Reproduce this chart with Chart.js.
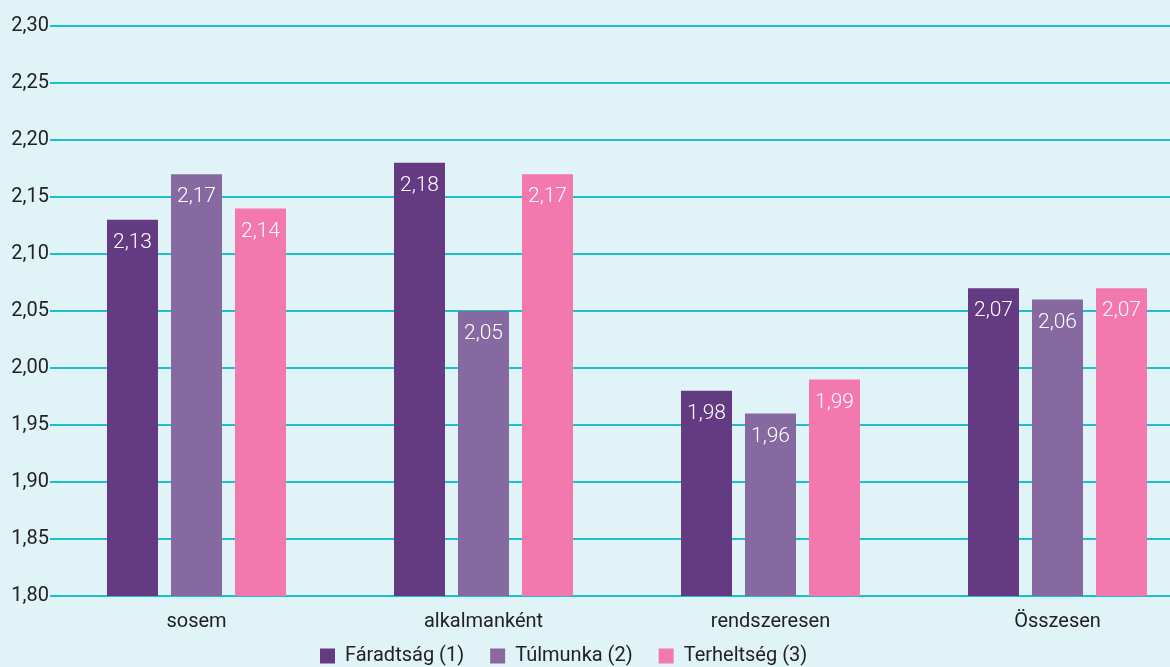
<!DOCTYPE html>
<html>
<head>
<meta charset="utf-8">
<script src="https://cdn.jsdelivr.net/npm/chart.js@4/dist/chart.umd.min.js"></script>
<style>
  html, body { margin: 0; padding: 0; background: #e0f3f6; overflow: hidden; }
  #wrap { position: relative; width: 1210px; height: 676px; }
</style>
</head>
<body>
<div id="wrap"><canvas id="c"></canvas></div>
<script>
const categories = ['sosem', 'alkalmanként', 'rendszeresen', 'Összesen'];
const seriesNames = ['Fáradtság (1)', 'Túlmunka (2)', 'Terheltség (3)'];
const faradtsag = [2.13, 2.18, 1.98, 2.07];
const tulmunka = [2.17, 2.05, 1.96, 2.06];
const terheltseg = [2.14, 2.17, 1.99, 2.07];
const yTicks = [1.80, 1.85, 1.90, 1.95, 2.00, 2.05, 2.10, 2.15, 2.20, 2.25, 2.30];
const colors = ['#643a82', '#8669a0', '#f278ad'];

const fmt = v => v.toFixed(2).replace('.', ',');

const valueLabels = {
  id: 'valueLabels',
  afterDatasetsDraw(chart) {
    const ctx = chart.ctx;
    ctx.save();
    ctx.fillStyle = '#ffffff';
    ctx.font = '300 21px Roboto';
    ctx.textAlign = 'center';
    ctx.textBaseline = 'middle';
    chart.data.datasets.forEach((ds, i) => {
      const meta = chart.getDatasetMeta(i);
      meta.data.forEach((bar, j) => {
        ctx.fillText(fmt(ds.data[j]), bar.x, bar.y + 23);
      });
    });
    ctx.restore();
  }
};

// Wider horizontal spacing between legend items, same vertical placement
const LAYOUT_PAD = 6, DRAW_PAD = 26, LEGEND_START = 320;
const legendShift = {
  id: 'legendShift',
  afterLayout(chart) {
    const lg = chart.legend;
    if (!lg) return;
    const base = lg.options;
    lg.options = new Proxy(base, {
      get(t, p) {
        if (p === 'labels') {
          return new Proxy(t.labels, { get(t2, p2) { return p2 === 'padding' ? DRAW_PAD : t2[p2]; } });
        }
        return t[p];
      }
    });
    const w = lg.right - lg.left;
    lg.top = lg.top - (DRAW_PAD - LAYOUT_PAD);
    lg.left = LEGEND_START - DRAW_PAD;
    lg.right = lg.left + Math.max(w, 700);
  }
};

new Chart(document.getElementById('c'), {
  type: 'bar',
  data: {
    labels: categories,
    datasets: [
      { label: seriesNames[0], data: faradtsag, backgroundColor: colors[0] },
      { label: seriesNames[1], data: tulmunka, backgroundColor: colors[1] },
      { label: seriesNames[2], data: terheltseg, backgroundColor: colors[2] }
    ]
  },
  options: {
    responsive: true,
    maintainAspectRatio: false,
    animation: false,
    layout: { padding: { top: 26, right: 9, left: 0, bottom: 0 } },
    datasets: {
      bar: { categoryPercentage: 0.669, barPercentage: 0.797 }
    },
    scales: {
      x: {
        grid: { display: false },
        border: { display: false },
        ticks: { color: '#222', font: { family: 'Roboto', size: 20 }, padding: 6 }
      },
      y: {
        min: 1.8,
        max: 2.3,
        afterBuildTicks(scale) { scale.ticks = yTicks.map(v => ({ value: v })); },
        afterFit(scale) { scale.width = 53; },
        border: { display: false },
        grid: { color: '#1cbfcf', lineWidth: 2, tickLength: 3 },
        ticks: {
          color: '#222',
          font: { family: 'Roboto', size: 20 },
          padding: 1,
          callback: v => fmt(v)
        }
      }
    },
    plugins: {
      legend: {
        position: 'bottom',
        align: 'start',
        labels: {
          color: '#222',
          font: { family: 'Roboto', size: 20 },
          boxWidth: 15,
          boxHeight: 15,
          padding: LAYOUT_PAD
        }
      },
      tooltip: { enabled: false }
    }
  },
  plugins: [valueLabels, legendShift]
});
</script>
</body>
</html>
